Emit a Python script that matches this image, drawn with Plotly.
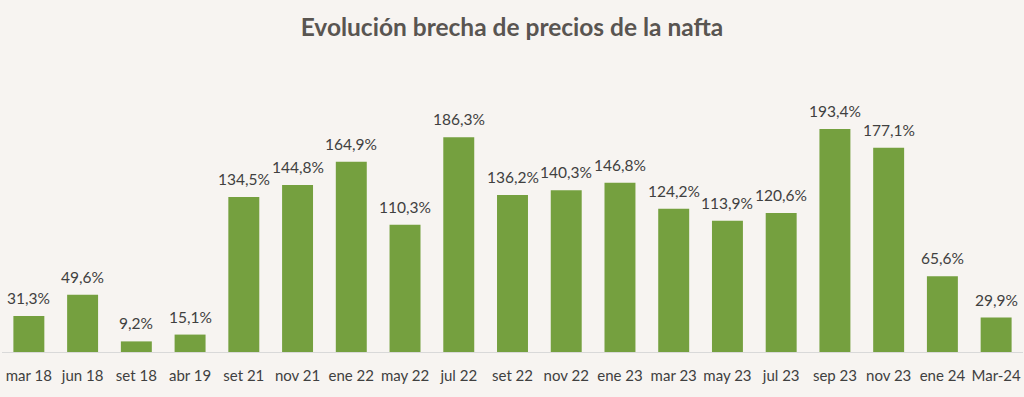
import plotly.graph_objects as go

categories = ["mar 18", "jun 18", "set 18", "abr 19", "set 21", "nov 21", "ene 22", "may 22",
              "jul 22", "set 22", "nov 22", "ene 23", "mar 23", "may 23", "jul 23", "sep 23",
              "nov 23", "ene 24", "Mar-24"]
values = [31.3, 49.6, 9.2, 15.1, 134.5, 144.8, 164.9, 110.3, 186.3, 136.2, 140.3, 146.8,
          124.2, 113.9, 120.6, 193.4, 177.1, 65.6, 29.9]
labels = [f"{v:.1f}%".replace(".", ",") for v in values]

BG = "#f7f4f1"
GREEN = "#75a03f"
TEXT = "#404040"
FONT = "Lato"

fig = go.Figure(go.Bar(x=categories, y=values, marker=dict(color=GREEN, line=dict(width=0)),
                       hoverinfo="skip"))

for c, v, t in zip(categories, values, labels):
    fig.add_annotation(x=c, y=v, text=t, showarrow=False, yanchor="bottom", yshift=7,
                       font=dict(family=FONT, size=15.5, color=TEXT))

fig.update_layout(
    width=1024, height=397,
    paper_bgcolor=BG, plot_bgcolor=BG,
    margin=dict(l=2, r=1, t=100, b=45),
    bargap=0.424,
    showlegend=False,
    title=dict(text="<b>Evolución brecha de precios de la nafta</b>", x=0.5, xanchor="center",
               y=0.93, yanchor="middle", font=dict(family=FONT, size=24.5, color="#595551")),
    xaxis=dict(showline=True, linecolor="#d9d9d9", linewidth=1, ticks="", showgrid=False,
               ticklabelstandoff=10,
               tickfont=dict(family=FONT, size=15, color=TEXT)),
    yaxis=dict(visible=False, range=[0, 218.5], showgrid=False, zeroline=False),
)

fig.write_html(
    "out.html",
    config={"displayModeBar": False},
    post_script="document.body.style.margin='0';document.body.style.padding='0';"
                "document.body.style.overflow='hidden';document.body.style.background='#f7f4f1';",
)
